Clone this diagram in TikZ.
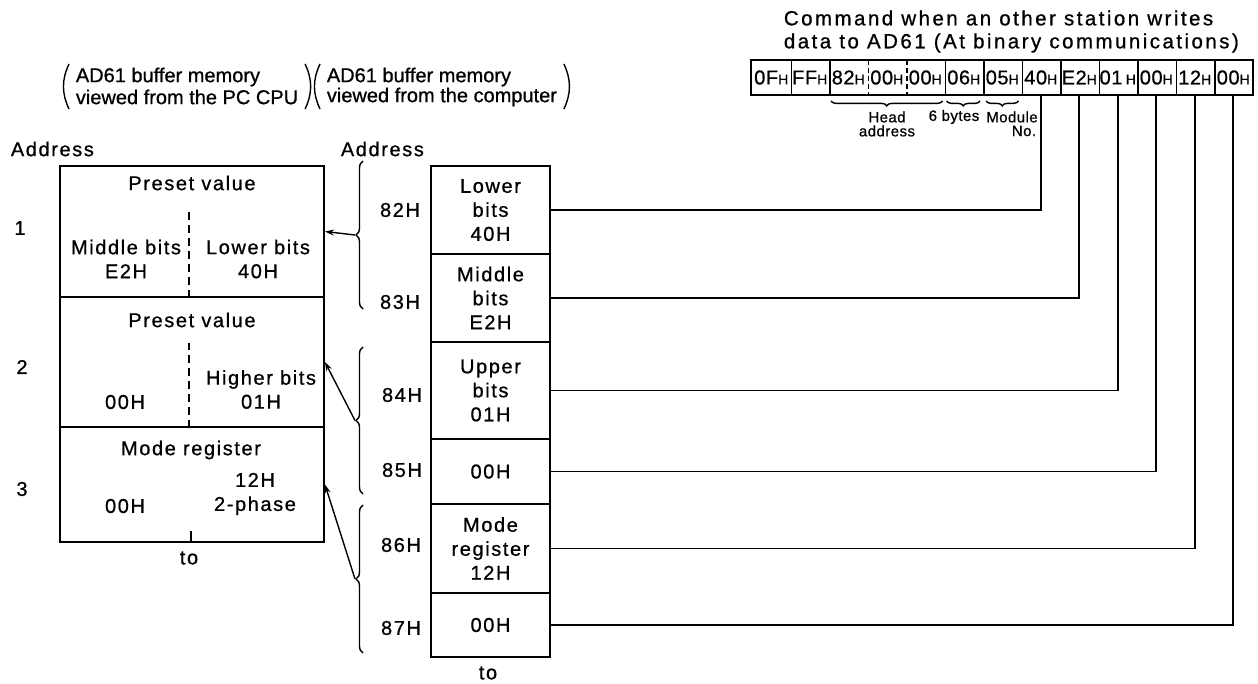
\documentclass[tikz,border=0pt]{standalone}
\usepackage{fontspec}
\setmainfont[FakeBold=0.8]{Liberation Sans}
\newfontfamily\trk[LetterSpace=8,FakeBold=0.8]{Liberation Sans}
\newfontfamily\trkt[LetterSpace=12,FakeBold=0.8]{Liberation Sans}
\newfontfamily\trks[LetterSpace=3,FakeBold=0.8]{Liberation Sans}
\newfontfamily\trkc[LetterSpace=3,FakeBold=0.8]{Liberation Sans}
\usetikzlibrary{decorations.pathreplacing,arrows.meta,calc}
\newcommand\smH{{\fontsize{14}{14}\selectfont H}}
\begin{document}
\begin{tikzpicture}[x=1pt,y=-1pt,
  line width=1.8pt,
  membox/.style={draw, line width=1.9pt, inner sep=0pt, align=center, font=\trk\fontsize{20}{24}\selectfont},
  rowbox/.style={draw, line width=1.9pt, inner sep=0pt, minimum width=264pt},
  lbl/.style={inner sep=0pt, align=center, font=\trk\fontsize{20}{24}\selectfont},
  hdr/.style={inner sep=0pt, anchor=west, font=\fontsize{20}{20}\selectfont},
  ttl/.style={inner sep=0pt, anchor=west, font=\trkt\fontsize{20.5}{25}\selectfont},
  sml/.style={inner sep=0pt, font=\trks\fontsize{15}{15}\selectfont},
  cellx/.style={inner sep=0pt, minimum width=38.5pt, minimum height=33pt, font=\trkc\fontsize{20}{20}\selectfont},
  brc/.style={decorate, decoration={brace, amplitude=7pt}, line width=1.4pt},
  ubrc/.style={decorate, decoration={brace, amplitude=5pt}, line width=1.4pt},
  dsh/.style={dash pattern=on 8pt off 5pt, line width=1.5pt},
  arr/.style={-{Stealth[length=9pt, width=6pt]}, line width=1.4pt},
  con/.style={line width=1.9pt},
  par/.style={line width=1.4pt}
]
\useasboundingbox (0,0) rectangle (1258,684);

% title
\node[ttl] (T1) at (783,18) {Command when an other station writes};
\node[ttl] (T2) at (783,43) {data to AD61 (At binary communications)};

% command table
\foreach \t [count=\i] in {0F,FF,82,00,00,06,05,40,E2,01\,,00,12,00}
  \node[cellx] (t\i) at ({752+38.5*(\i-0.5)},77.5) {\t\smH};
\draw[line width=1.9pt] (t1.north west) rectangle (t13.south east);
\foreach \i in {1,2,5,6,7,8,9,10,11,12}
  \draw[line width=1.7pt] (t\i.north east) -- (t\i.south east);
\foreach \i in {3,4}
  \draw[line width=1.5pt, dash pattern=on 5pt off 3pt] (t\i.north east) -- (t\i.south east);

% under braces
\draw[ubrc] ($(t5.south east)+(-3,6)$) -- ($(t3.south west)+(3,6)$);
\draw[ubrc] ($(t6.south east)+(-4,6)$) -- ($(t6.south west)+(3,6)$);
\draw[ubrc] ($(t7.south east)+(-4,6)$) -- ($(t7.south west)+(4,6)$);
\node[sml] (hd) at (887,117) {Head};
\node[sml] (ad) at (887,131) {address};
\node[sml] (by) at (954,117) {6 bytes};
\node[sml] (mo) at (1012,117) {Module};
\node[sml] (no) at (1024,131) {No.};

% headers with parentheses
\node[hdr] (h1a) at (75,77) {AD61 buffer memory};
\node[hdr] (h1b) at (75,97) {viewed from the PC CPU};
\node[hdr] (h2a) at (326,77) {AD61 buffer memory};
\node[hdr] (h2b) at (326,97) {viewed from the computer};
\coordinate (ptop) at (0,64);
\coordinate (pbot) at (0,109);
\draw[par] ([xshift=-6pt]h1b.west |- ptop) to[bend right=25] ([xshift=-6pt]h1b.west |- pbot);
\draw[par] ([xshift=6pt]h1b.east |- ptop) to[bend left=25] ([xshift=6pt]h1b.east |- pbot);
\draw[par] ([xshift=-6pt]h2b.west |- ptop) to[bend right=25] ([xshift=-6pt]h2b.west |- pbot);
\draw[par] ([xshift=6pt]h2b.east |- ptop) to[bend left=25] ([xshift=6pt]h2b.east |- pbot);

\node[lbl, anchor=west] (adL) at (10,149) {Address};
\node[lbl, anchor=west] (adR) at (340,149) {Address};

% left memory
\node[rowbox, minimum height=131pt] (L1) at (192,231.5) {};
\node[rowbox, minimum height=130pt] (L2) at (192,362) {};
\node[rowbox, minimum height=115pt] (L3) at (192,484.5) {};
\node[lbl] (l1a) at (192,183) {Preset value};
\node[lbl] (l1b) at (126,259) {Middle bits\\E2H};
\node[lbl] (l1c) at (258,259) {Lower bits\\40H};
\node[lbl] (l2a) at (192,320) {Preset value};
\node[lbl] (l2b) at (125,402) {00H};
\node[lbl] (l2c) at (261,389.5) {Higher bits\\01H};
\node[lbl] (l3a) at (191,450) {Mode register};
\node[lbl] (l3b) at (255,494) {12H\\2-phase};
\node[lbl] (l3c) at (125,506) {00H};
\draw[dsh] ([xshift=-3pt]L1.south) -- ++(0,-87);
\draw[dsh] ([xshift=-3pt]L2.south) -- ++(0,-85);
\draw[line width=1.5pt] ([xshift=-1pt]L3.south) -- ++(0,-12);
\node[lbl] (n1) at (20,228) {1};
\node[lbl] (n2) at (22,367) {2};
\node[lbl] (n3) at (22,489) {3};
\node[lbl] (toL) at (189,558) {to};

% right memory
\node[membox, minimum width=119pt, minimum height=88pt] (R1) at (490.5,210) {Lower\\bits\\40H};
\node[membox, minimum width=119pt, minimum height=88pt] (R2) at (490.5,298) {Middle\\bits\\E2H};
\node[membox, minimum width=119pt, minimum height=97pt] (R3) at (490.5,390.5) {Upper\\bits\\01H};
\node[membox, minimum width=119pt, minimum height=65pt] (R4) at (490.5,471.5) {00H};
\node[membox, minimum width=119pt, minimum height=89pt] (R5) at (490.5,548.5) {Mode\\register\\12H};
\node[membox, minimum width=119pt, minimum height=64pt] (R6) at (490.5,625) {00H};
\node[lbl] (toR) at (488,673) {to};

\node[lbl] (a82) at (400,210) {82H};
\node[lbl] (a83) at (400,302) {83H};
\node[lbl] (a84) at (402,395) {84H};
\node[lbl] (a85) at (402,470) {85H};
\node[lbl] (a86) at (401,545) {86H};
\node[lbl] (a87) at (401,628) {87H};

% braces and arrows
\draw[brc] (363,309) -- (363,161);
\draw[brc] (363,494) -- (363,347);
\draw[brc] (363,653) -- (363,505);
\coordinate (b1) at (355,235);
\coordinate (b2) at (355,420.5);
\coordinate (b3) at (355,579);
\draw[arr] (b1) -- (L1.east);
\draw[arr] (b2) -- (L2.east);
\draw[arr] (b3) -- (L3.east);

% connectors
\draw[con] (t8.south) |- (R1.east);
\draw[con] (t9.south) |- (R2.east);
\draw[con] (t10.south) |- (R3.east);
\draw[con] (t11.south) |- (R4.east);
\draw[con] (t12.south) |- (R5.east);
\draw[con] (t13.south) |- (R6.east);
\end{tikzpicture}
\end{document}
